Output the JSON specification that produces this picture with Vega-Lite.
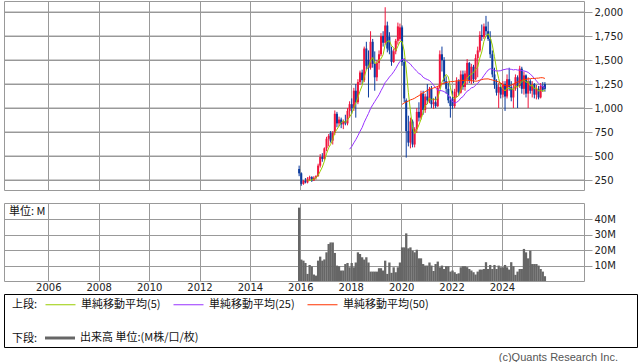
{
"$schema": "https://vega.github.io/schema/vega-lite/v6.json",
"background": "white",
"padding": {"left": 3, "top": 0, "right": 0, "bottom": 0},
"bounds": "flush",
"spacing": 13,
"config": {
  "view": {"stroke": "#999999", "strokeWidth": 1},
  "axis": {"gridColor": "#999999", "gridOpacity": 1, "gridWidth": 1, "domain": false, "tickColor": "#999999", "labelFont": "DejaVu Sans", "labelFontSize": 10, "labelColor": "#222222"},
  "legend": {"labelFont": "Noto Sans CJK JP", "labelFontSize": 11, "labelColor": "#111111", "titleFont": "Noto Sans CJK JP", "titleFontSize": 11, "titleFontWeight": "normal", "titleColor": "#111111", "titleAnchor": "middle", "titleBaseline": "top"}
},
"datasets": {
"p": [
{"date":"2015-12-15","open":365,"high":400,"low":290,"close":320,"volume":47.6},
{"date":"2016-01-15","open":320,"high":330,"low":190,"close":210,"volume":13.9},
{"date":"2016-02-15","open":210,"high":250,"low":200,"close":240,"volume":13.2},
{"date":"2016-03-15","open":240,"high":270,"low":215,"close":225,"volume":11.7},
{"date":"2016-04-15","open":225,"high":280,"low":215,"close":265,"volume":4.6},
{"date":"2016-05-15","open":265,"high":295,"low":240,"close":280,"volume":10.4},
{"date":"2016-06-15","open":280,"high":290,"low":230,"close":245,"volume":9.4},
{"date":"2016-07-15","open":245,"high":290,"low":240,"close":275,"volume":4.2},
{"date":"2016-08-15","open":275,"high":300,"low":255,"close":290,"volume":3.5},
{"date":"2016-09-15","open":290,"high":420,"low":285,"close":400,"volume":13.2},
{"date":"2016-10-15","open":400,"high":520,"low":380,"close":490,"volume":15.8},
{"date":"2016-11-15","open":490,"high":530,"low":440,"close":470,"volume":13.2},
{"date":"2016-12-15","open":470,"high":590,"low":460,"close":580,"volume":14},
{"date":"2017-01-15","open":580,"high":700,"low":550,"close":680,"volume":18.6},
{"date":"2017-02-15","open":680,"high":730,"low":600,"close":710,"volume":24},
{"date":"2017-03-15","open":740,"high":760,"low":640,"close":660,"volume":25},
{"date":"2017-04-15","open":660,"high":760,"low":620,"close":740,"volume":25},
{"date":"2017-05-15","open":740,"high":975,"low":720,"close":940,"volume":18.2},
{"date":"2017-06-15","open":940,"high":960,"low":800,"close":840,"volume":10},
{"date":"2017-07-15","open":840,"high":910,"low":810,"close":880,"volume":9.6},
{"date":"2017-08-15","open":880,"high":900,"low":790,"close":830,"volume":6.8},
{"date":"2017-09-15","open":830,"high":880,"low":780,"close":860,"volume":6.8},
{"date":"2017-10-15","open":860,"high":930,"low":820,"close":840,"volume":11},
{"date":"2017-11-15","open":840,"high":1000,"low":820,"close":970,"volume":11.7},
{"date":"2017-12-15","open":970,"high":1070,"low":900,"close":1040,"volume":8.9},
{"date":"2018-01-15","open":1040,"high":1100,"low":940,"close":1000,"volume":11.7},
{"date":"2018-02-15","open":1000,"high":1210,"low":970,"close":1180,"volume":8.9},
{"date":"2018-03-15","open":1180,"high":1250,"low":900,"close":1060,"volume":12},
{"date":"2018-04-15","open":1060,"high":1300,"low":1040,"close":1270,"volume":18.6},
{"date":"2018-05-15","open":1270,"high":1390,"low":1240,"close":1370,"volume":17.5},
{"date":"2018-06-15","open":1370,"high":1400,"low":1250,"close":1290,"volume":15.4},
{"date":"2018-07-15","open":1290,"high":1640,"low":1270,"close":1620,"volume":13.9},
{"date":"2018-08-15","open":1620,"high":1690,"low":1400,"close":1440,"volume":15.4},
{"date":"2018-09-15","open":1500,"high":1600,"low":1110,"close":1420,"volume":12},
{"date":"2018-10-15","open":1420,"high":1800,"low":1400,"close":1690,"volume":6.1},
{"date":"2018-11-15","open":1690,"high":1720,"low":1420,"close":1460,"volume":6.1},
{"date":"2018-12-15","open":1460,"high":1590,"low":1180,"close":1320,"volume":6.1},
{"date":"2019-01-15","open":1320,"high":1500,"low":1280,"close":1470,"volume":6.1},
{"date":"2019-02-15","open":1470,"high":1600,"low":1400,"close":1560,"volume":8.3},
{"date":"2019-03-15","open":1560,"high":1780,"low":1540,"close":1750,"volume":8.3},
{"date":"2019-04-15","open":1750,"high":1800,"low":1640,"close":1680,"volume":6.8},
{"date":"2019-05-15","open":1680,"high":2050,"low":1660,"close":1860,"volume":13.2},
{"date":"2019-06-15","open":1860,"high":1900,"low":1580,"close":1620,"volume":4.6},
{"date":"2019-07-15","open":1740,"high":1790,"low":1560,"close":1600,"volume":12},
{"date":"2019-08-15","open":1600,"high":1640,"low":1440,"close":1480,"volume":5.3},
{"date":"2019-09-15","open":1480,"high":1620,"low":1470,"close":1590,"volume":8.9},
{"date":"2019-10-15","open":1590,"high":1720,"low":1560,"close":1700,"volume":5.7},
{"date":"2019-11-15","open":1700,"high":1890,"low":1660,"close":1850,"volume":8.9},
{"date":"2019-12-15","open":1720,"high":1880,"low":1700,"close":1840,"volume":12},
{"date":"2020-01-15","open":1840,"high":1860,"low":1440,"close":1480,"volume":21.8},
{"date":"2020-02-15","open":1480,"high":1520,"low":1060,"close":1100,"volume":21.8},
{"date":"2020-03-15","open":1080,"high":1100,"low":483,"close":760,"volume":30.9},
{"date":"2020-04-15","open":760,"high":920,"low":600,"close":640,"volume":21.2},
{"date":"2020-05-15","open":640,"high":900,"low":580,"close":860,"volume":21.8},
{"date":"2020-06-15","open":860,"high":880,"low":590,"close":620,"volume":19.7},
{"date":"2020-07-15","open":620,"high":800,"low":590,"close":780,"volume":18.6},
{"date":"2020-08-15","open":780,"high":1000,"low":740,"close":960,"volume":20.3},
{"date":"2020-09-15","open":960,"high":1060,"low":860,"close":900,"volume":14.7},
{"date":"2020-10-15","open":900,"high":1180,"low":880,"close":1150,"volume":14.7},
{"date":"2020-11-15","open":1150,"high":1180,"low":930,"close":980,"volume":11},
{"date":"2020-12-15","open":980,"high":1150,"low":950,"close":1120,"volume":10},
{"date":"2021-01-15","open":1120,"high":1250,"low":1040,"close":1080,"volume":10},
{"date":"2021-02-15","open":1080,"high":1220,"low":1050,"close":1200,"volume":12},
{"date":"2021-03-15","open":1200,"high":1230,"low":1000,"close":1040,"volume":10},
{"date":"2021-04-15","open":1040,"high":1100,"low":990,"close":1060,"volume":6.5},
{"date":"2021-05-15","open":1060,"high":1120,"low":1000,"close":1020,"volume":11},
{"date":"2021-06-15","open":1020,"high":1230,"low":1010,"close":1210,"volume":12.6},
{"date":"2021-07-15","open":1210,"high":1600,"low":1200,"close":1560,"volume":8.9},
{"date":"2021-08-15","open":1560,"high":1640,"low":1380,"close":1500,"volume":10},
{"date":"2021-09-15","open":1500,"high":1530,"low":1250,"close":1280,"volume":7.8},
{"date":"2021-10-15","open":1280,"high":1330,"low":1150,"close":1200,"volume":9.6},
{"date":"2021-11-15","open":1200,"high":1260,"low":1050,"close":1080,"volume":9.6},
{"date":"2021-12-15","open":1080,"high":1120,"low":900,"close":1020,"volume":6.1},
{"date":"2022-01-15","open":1100,"high":1180,"low":990,"close":1020,"volume":6.8},
{"date":"2022-02-15","open":1020,"high":1200,"low":1000,"close":1170,"volume":5.7},
{"date":"2022-03-15","open":1170,"high":1320,"low":1110,"close":1280,"volume":4.6},
{"date":"2022-04-15","open":1280,"high":1300,"low":1130,"close":1160,"volume":5},
{"date":"2022-05-15","open":1160,"high":1390,"low":1150,"close":1350,"volume":8.9},
{"date":"2022-06-15","open":1350,"high":1390,"low":1190,"close":1220,"volume":9.6},
{"date":"2022-07-15","open":1220,"high":1390,"low":1180,"close":1360,"volume":9.6},
{"date":"2022-08-15","open":1300,"high":1510,"low":1250,"close":1470,"volume":9},
{"date":"2022-09-15","open":1470,"high":1480,"low":1260,"close":1290,"volume":7.8},
{"date":"2022-10-15","open":1290,"high":1460,"low":1250,"close":1430,"volume":6.8},
{"date":"2022-11-15","open":1430,"high":1450,"low":1260,"close":1300,"volume":5.7},
{"date":"2022-12-15","open":1300,"high":1560,"low":1290,"close":1520,"volume":4.2},
{"date":"2023-01-15","open":1520,"high":1640,"low":1320,"close":1600,"volume":6.1},
{"date":"2023-02-15","open":1600,"high":1800,"low":1580,"close":1760,"volume":7.4},
{"date":"2023-03-15","open":1760,"high":1870,"low":1700,"close":1740,"volume":7.4},
{"date":"2023-04-15","open":1740,"high":1880,"low":1720,"close":1850,"volume":7.8},
{"date":"2023-05-15","open":1850,"high":1960,"low":1760,"close":1800,"volume":12.2},
{"date":"2023-06-15","open":1800,"high":1900,"low":1700,"close":1720,"volume":7.8},
{"date":"2023-07-15","open":1720,"high":1800,"low":1520,"close":1560,"volume":10.4},
{"date":"2023-08-15","open":1560,"high":1600,"low":1320,"close":1350,"volume":7.8},
{"date":"2023-09-15","open":1350,"high":1420,"low":1200,"close":1240,"volume":10.4},
{"date":"2023-10-15","open":1240,"high":1300,"low":1130,"close":1160,"volume":7.8},
{"date":"2023-11-15","open":1160,"high":1260,"low":1000,"close":1220,"volume":10},
{"date":"2023-12-15","open":1220,"high":1260,"low":1100,"close":1140,"volume":8.9},
{"date":"2024-01-15","open":1140,"high":1280,"low":1110,"close":1250,"volume":8.9},
{"date":"2024-02-15","open":1250,"high":1280,"low":970,"close":1120,"volume":10.4},
{"date":"2024-03-15","open":1120,"high":1350,"low":1100,"close":1300,"volume":8.9},
{"date":"2024-04-15","open":1300,"high":1420,"low":1180,"close":1220,"volume":7.4},
{"date":"2024-05-15","open":1220,"high":1280,"low":1070,"close":1110,"volume":12.2},
{"date":"2024-06-15","open":1110,"high":1250,"low":1000,"close":1200,"volume":9.6},
{"date":"2024-07-15","open":1200,"high":1350,"low":1180,"close":1320,"volume":4},
{"date":"2024-08-15","open":1320,"high":1340,"low":1000,"close":1230,"volume":6.1},
{"date":"2024-09-15","open":1230,"high":1440,"low":1210,"close":1410,"volume":7.8},
{"date":"2024-10-15","open":1410,"high":1430,"low":1150,"close":1200,"volume":7.8},
{"date":"2024-11-15","open":1200,"high":1380,"low":1140,"close":1340,"volume":20.8},
{"date":"2024-12-15","open":1340,"high":1350,"low":1110,"close":1150,"volume":18.6},
{"date":"2025-01-15","open":1150,"high":1320,"low":1000,"close":1280,"volume":14.7},
{"date":"2025-02-15","open":1280,"high":1300,"low":1150,"close":1180,"volume":19.7},
{"date":"2025-03-15","open":1180,"high":1280,"low":1110,"close":1250,"volume":11},
{"date":"2025-04-15","open":1250,"high":1260,"low":1100,"close":1140,"volume":11},
{"date":"2025-05-15","open":1140,"high":1240,"low":1090,"close":1200,"volume":11},
{"date":"2025-06-15","open":1200,"high":1230,"low":1090,"close":1110,"volume":10},
{"date":"2025-07-15","open":1110,"high":1260,"low":1100,"close":1230,"volume":7.8},
{"date":"2025-08-15","open":1230,"high":1270,"low":1170,"close":1190,"volume":6.1},
{"date":"2025-09-15","open":1250,"high":1270,"low":1170,"close":1200,"volume":3.1}
]
},
"vconcat": [
{
  "width": 580, "height": 189,
  "resolve": {"axis": {"y": "independent"}},
  "layer": [
    {"data": {"values": [{}]}, "mark": {"type": "rule", "color": "#999999", "strokeWidth": 1}, "encoding": {"y": {"datum": 250, "type": "quantitative", "scale": {"domain": [146, 2115], "zero": false, "nice": false}, "axis": null}}},
    {"data": {"values": [{}]}, "mark": {"type": "rule", "color": "#999999", "strokeWidth": 1}, "encoding": {"y": {"datum": 500, "type": "quantitative", "axis": null}}},
    {"data": {"values": [{}]}, "mark": {"type": "rule", "color": "#999999", "strokeWidth": 1}, "encoding": {"y": {"datum": 750, "type": "quantitative", "axis": null}}},
    {"data": {"values": [{}]}, "mark": {"type": "rule", "color": "#999999", "strokeWidth": 1}, "encoding": {"y": {"datum": 1000, "type": "quantitative", "axis": null}}},
    {"data": {"values": [{}]}, "mark": {"type": "rule", "color": "#999999", "strokeWidth": 1}, "encoding": {"y": {"datum": 1250, "type": "quantitative", "axis": null}}},
    {"data": {"values": [{}]}, "mark": {"type": "rule", "color": "#999999", "strokeWidth": 1}, "encoding": {"y": {"datum": 1500, "type": "quantitative", "axis": null}}},
    {"data": {"values": [{}]}, "mark": {"type": "rule", "color": "#999999", "strokeWidth": 1}, "encoding": {"y": {"datum": 1750, "type": "quantitative", "axis": null}}},
    {"data": {"values": [{}]}, "mark": {"type": "rule", "color": "#999999", "strokeWidth": 1}, "encoding": {"y": {"datum": 2000, "type": "quantitative", "axis": null}}},
    {"data": {"name": "p"},
     "mark": {"type": "rule", "strokeWidth": 1},
     "encoding": {
       "x": {"field": "date", "type": "temporal",
         "scale": {"domain": [{"year": 2004, "month": 6, "date": 10}, {"year": 2027, "month": 1, "date": 22}]},
         "axis": {"values": [{"year":2006},{"year":2008},{"year":2010},{"year":2012},{"year":2014},{"year":2016},{"year":2018},{"year":2020},{"year":2022},{"year":2024}], "labels": false, "ticks": false, "grid": true, "title": null}},
       "y": {"field": "low", "type": "quantitative", "scale": {"domain": [146, 2115], "zero": false, "nice": false},
         "axis": {"orient": "right", "values": [250,500,750,1000,1250,1500,1750,2000], "format": ",d", "labelOverlap": false, "tickSize": 8, "labelPadding": 2, "grid": true, "title": null}},
       "y2": {"field": "high"},
       "color": {"condition": {"test": "datum.close >= datum.open", "value": "#f0143c"}, "value": "#0a3a9e"}
     }},
    {"data": {"name": "p"},
     "mark": {"type": "bar", "width": 2},
     "encoding": {
       "x": {"field": "date", "type": "temporal",
         "scale": {"domain": [{"year": 2004, "month": 6, "date": 10}, {"year": 2027, "month": 1, "date": 22}]},
         "axis": {"values": [{"year":2006},{"year":2008},{"year":2010},{"year":2012},{"year":2014},{"year":2016},{"year":2018},{"year":2020},{"year":2022},{"year":2024}], "labels": false, "ticks": false, "grid": true, "title": null}},
       "y": {"field": "open", "type": "quantitative", "scale": {"domain": [146, 2115], "zero": false, "nice": false}, "axis": null},
       "y2": {"field": "close"},
       "color": {"condition": {"test": "datum.close >= datum.open", "value": "#f0143c"}, "value": "#0a3a9e"}
     }},
    {"data": {"name": "p"},
     "transform": [
       {"window": [{"op": "row_number", "as": "n"}], "sort": [{"field": "date"}]},
       {"window": [{"op": "mean", "field": "close", "as": "単純移動平均(5)"}], "frame": [-4, 0], "sort": [{"field": "date"}]},
       {"window": [{"op": "mean", "field": "close", "as": "単純移動平均(25)"}], "frame": [-24, 0], "sort": [{"field": "date"}]},
       {"window": [{"op": "mean", "field": "close", "as": "単純移動平均(50)"}], "frame": [-49, 0], "sort": [{"field": "date"}]},
       {"fold": ["単純移動平均(5)", "単純移動平均(25)", "単純移動平均(50)"], "as": ["series", "ma"]},
       {"filter": "(datum.series === '単純移動平均(5)' && datum.n >= 5) || (datum.series === '単純移動平均(25)' && datum.n >= 25) || (datum.series === '単純移動平均(50)' && datum.n >= 50)"}
     ],
     "mark": {"type": "line", "strokeWidth": 1},
     "encoding": {
       "x": {"field": "date", "type": "temporal",
         "scale": {"domain": [{"year": 2004, "month": 6, "date": 10}, {"year": 2027, "month": 1, "date": 22}]},
         "axis": {"values": [{"year":2006},{"year":2008},{"year":2010},{"year":2012},{"year":2014},{"year":2016},{"year":2018},{"year":2020},{"year":2022},{"year":2024}], "labels": false, "ticks": false, "grid": true, "title": null}},
       "y": {"field": "ma", "type": "quantitative", "scale": {"domain": [146, 2115], "zero": false, "nice": false}, "axis": null},
       "color": {"field": "series", "type": "nominal",
         "scale": {"domain": ["単純移動平均(5)", "単純移動平均(25)", "単純移動平均(50)"], "range": ["#99cc00", "#9933ff", "#ff3300"]},
         "legend": {"title": "上段:", "orient": "none", "legendX": 8, "legendY": 288, "direction": "horizontal", "titleOrient": "left", "titlePadding": 7, "symbolType": "stroke", "symbolSize": 900, "symbolStrokeWidth": 1, "labelOffset": 5, "columnPadding": 10}}
     }}
  ]
},
{
  "width": 580, "height": 78,
  "title": {"text": "単位: M", "anchor": "start", "frame": "group", "offset": -14, "dx": 5, "fontSize": 11, "fontWeight": "normal", "font": "Noto Sans CJK JP", "color": "#111111"},
  "data": {"name": "p"},
  "mark": {"type": "bar", "width": 2.3},
  "encoding": {
    "x": {"field": "date", "type": "temporal",
      "scale": {"domain": [{"year": 2004, "month": 6, "date": 10}, {"year": 2027, "month": 1, "date": 22}]},
      "axis": {"values": [{"year":2006},{"year":2008},{"year":2010},{"year":2012},{"year":2014},{"year":2016},{"year":2018},{"year":2020},{"year":2022},{"year":2024}], "format": "%Y", "ticks": false, "labelPadding": 1, "grid": true, "title": null}},
    "y": {"field": "volume", "type": "quantitative", "scale": {"domain": [0, 50.6]},
      "axis": {"orient": "right", "values": [10, 20, 30, 40], "labelExpr": "datum.value + 'M'", "tickSize": 8, "labelPadding": 2, "grid": true, "title": null}},
    "fill": {"datum": "出来高 単位:(M株/口/枚)", "scale": {"range": ["#666666"]},
      "legend": {"title": "下段:", "orient": "none", "legendX": 8, "legendY": 322, "direction": "horizontal", "titleOrient": "left", "titlePadding": 7, "symbolType": "M-1,-0.1H1V0.1H-1Z", "symbolSize": 900, "symbolStrokeWidth": 0, "labelOffset": 5}}
  }
},
{
  "width": 633, "height": 53,
  "view": {"stroke": "#000000", "strokeWidth": 1},
  "title": {"text": "(c)Quants Research Inc.", "orient": "bottom", "anchor": "end", "frame": "group", "offset": 5, "dx": -19, "fontSize": 11, "fontWeight": "normal", "font": "Liberation Sans", "color": "#555555"},
  "data": {"values": [{}]},
  "mark": {"type": "point", "opacity": 0}
}
]
}
